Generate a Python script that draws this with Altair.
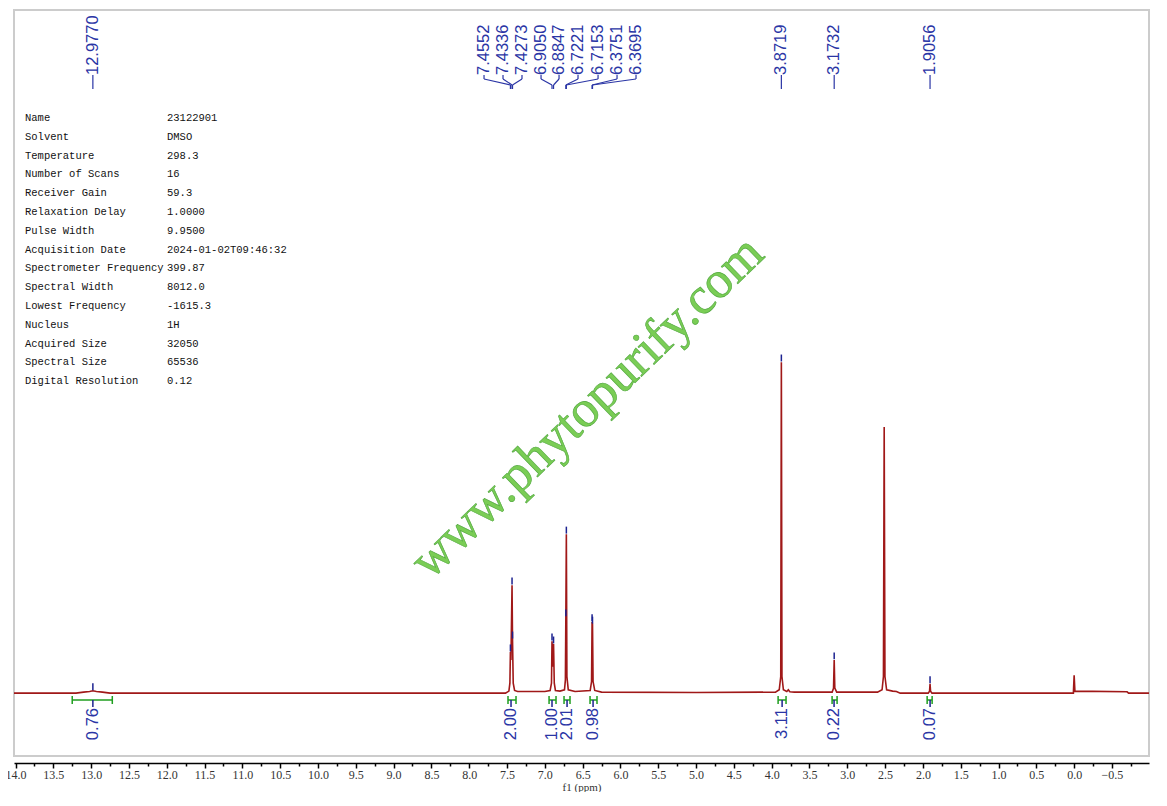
import altair as alt
import pandas as pd

# ---------------- data ----------------
# spectrum vertices (ppm, relative intensity; tallest peak = 100)
spec_ppm = [14.02, 13.20, 13.10, 13.02, 12.977, 12.93, 12.85, 12.75,
            7.52, 7.475, 7.462, 7.4552, 7.448, 7.4336, 7.4273, 7.418, 7.40, 7.36,
            7.00, 6.93, 6.912, 6.9050, 6.895, 6.8847, 6.875, 6.86, 6.80,
            6.74, 6.728, 6.7221, 6.7153, 6.708, 6.69, 6.60,
            6.40, 6.382, 6.3751, 6.3695, 6.362, 6.34, 6.25,
            5.00, 3.95, 3.90, 3.880, 3.8719, 3.864, 3.845, 3.80, 3.78, 3.76, 3.70,
            3.20, 3.182, 3.1732, 3.165, 3.14,
            2.60, 2.54, 2.522, 2.512, 2.502, 2.48, 2.40, 2.35, 2.30,
            1.93, 1.912, 1.9056, 1.899, 1.88,
            0.01, 0.0, -0.01, -0.70, -0.72, -0.99]
spec_int = [0.0, 0.0, 0.3, 0.5, 0.7, 0.5, 0.3, 0.0,
            0.0, 0.6, 3.0, 12.4, 10.0, 32.6, 16.3, 3.0, 0.8, 0.5,
            0.5, 0.8, 3.0, 15.7, 8.0, 14.8, 3.0, 0.8, 0.6,
            1.0, 4.0, 23.0, 48.0, 5.0, 1.0, 0.5,
            0.8, 3.5, 21.5, 20.8, 3.5, 0.8, 0.3,
            0.2, 0.3, 1.0, 5.0, 100.0, 5.0, 1.0, 0.5, 1.0, 0.4, 0.3,
            0.3, 1.5, 10.0, 1.5, 0.3,
            0.3, 1.0, 5.0, 80.4, 5.0, 1.0, 0.6, 0.5, 0.0,
            0.0, 0.6, 2.8, 0.6, 0.0,
            0.0, 5.4, 0.6, 0.4, 0.0, 0.0]

# picked peaks
peak_ppm = [12.977, 7.4552, 7.4336, 7.4273, 6.9050, 6.8847, 6.7221, 6.7153,
            6.3751, 6.3695, 3.8719, 3.1732, 1.9056]
peak_int = [0.7, 12.4, 32.6, 16.3, 15.7, 14.8, 23.0, 48.0,
            21.5, 20.8, 100.0, 10.0, 2.8]
peak_text = ["12.9770", "7.4552", "7.4336", "7.4273", "6.9050", "6.8847", "6.7221",
             "6.7153", "6.3751", "6.3695", "3.8719", "3.1732", "1.9056"]
label_ppm = [12.977, 7.804, 7.553, 7.302, 7.050, 6.812, 6.561, 6.296,
             6.045, 5.794, 3.8719, 3.1732, 1.9056]

# integrals
int_from = [13.25, 7.487, 6.944, 6.746, 6.402, 3.915, 3.201, 1.944]
int_to = [12.72, 7.381, 6.852, 6.667, 6.310, 3.810, 3.135, 1.878]
int_label_ppm = [12.977, 7.447, 6.905, 6.706, 6.362, 3.862, 3.175, 1.905]
int_values = ["0.76", "2.00", "1.00", "2.01", "0.98", "3.11", "0.22", "0.07"]

# acquisition parameters
meta_keys = ["Name", "Solvent", "Temperature", "Number of Scans", "Receiver Gain",
             "Relaxation Delay", "Pulse Width", "Acquisition Date",
             "Spectrometer Frequency", "Spectral Width", "Lowest Frequency",
             "Nucleus", "Acquired Size", "Spectral Size", "Digital Resolution"]
meta_vals = ["23122901", "DMSO", "298.3", "16", "59.3", "1.0000", "9.9500",
             "2024-01-02T09:46:32", "399.87", "8012.0", "-1615.3", "1H",
             "32050", "65536", "0.12"]

watermark = "www.phytopurify.com"

tick_values = [14.0, 13.75, 13.5, 13.25, 13.0, 12.75, 12.5, 12.25, 12.0, 11.75,
               11.5, 11.25, 11.0, 10.75, 10.5, 10.25, 10.0, 9.75, 9.5, 9.25,
               9.0, 8.75, 8.5, 8.25, 8.0, 7.75, 7.5, 7.25, 7.0, 6.75, 6.5, 6.25,
               6.0, 5.75, 5.5, 5.25, 5.0, 4.75, 4.5, 4.25, 4.0, 3.75, 3.5, 3.25,
               3.0, 2.75, 2.5, 2.25, 2.0, 1.75, 1.5, 1.25, 1.0, 0.75, 0.5, 0.25,
               0.0, -0.25, -0.5, -0.75]

# ---------------- tables ----------------
spec_df = pd.DataFrame({"ppm": spec_ppm, "inten": spec_int})
peak_df = pd.DataFrame({"ppm": peak_ppm, "inten": peak_int, "txt": peak_text,
                        "lab": label_ppm})
peak_df["mtop"] = peak_df["inten"] + 2.3
peak_df["mbot"] = peak_df["inten"] + 0.2
int_df = pd.DataFrame({"a": int_from, "b": int_to, "lab": int_label_ppm, "txt": int_values})
ends_df = pd.DataFrame({"e": int_from + int_to})
meta_df = pd.DataFrame({"k": ["\n".join(meta_keys)], "v": ["\n".join(meta_vals)]})
wm_df = pd.DataFrame({"t": [watermark]})

W, H = 1135, 746
xscale = alt.Scale(domain=[14.02, -0.99], nice=False, zero=False)
yscale = alt.Scale(domain=[-19.0, 206.4], nice=False, zero=False)

major = "abs(datum.value*2 - round(datum.value*2)) < 0.001"
xaxis = alt.Axis(
    title="f1 (ppm)", values=tick_values,
    labelExpr=f"{major} ? format(datum.value, '.1f') : ''",
    tickSize={"condition": {"test": major, "value": 5}, "value": 3},
    grid=False, offset=7, domainColor="#000000", domainWidth=1.5,
    tickColor="#000000", tickWidth=1.5, labelOverlap=False, labelFlush=False,
    labelBound=False, labelFont="Liberation Serif", labelFontSize=12,
    labelColor="#333333", labelPadding=1, titleFont="Liberation Serif",
    titleFontSize=11, titleFontWeight="normal", titleColor="#333333",
    titlePadding=1,
)


def X(field):
    return alt.X(field, type="quantitative", scale=xscale, axis=xaxis)


BLUE = "#2a35a5"
MARKBLUE = "#1c2290"
GREEN = "#1f9e1f"
RED = "#a01818"

spectrum = alt.Chart(spec_df).mark_line(color=RED, strokeWidth=1.6).encode(
    x=X("ppm"), y=alt.Y("inten:Q", scale=yscale, axis=None))

marks = alt.Chart(peak_df).mark_rule(color=MARKBLUE, strokeWidth=1.5).encode(
    x=X("ppm"), y=alt.Y("mbot:Q", scale=yscale, axis=None), y2="mtop:Q")

top_text = alt.Chart(peak_df).mark_text(
    angle=270, align="left", baseline="middle", font="Liberation Sans",
    fontSize=16.5, color=BLUE).encode(x=X("lab"), y=alt.value(65), text="txt:N")

conn1 = alt.Chart(peak_df).mark_rule(color=BLUE, strokeWidth=1.2).encode(
    x=X("lab"), y=alt.value(65), y2=alt.value(69))
conn2 = alt.Chart(peak_df).mark_rule(color=BLUE, strokeWidth=1.2).encode(
    x=X("lab"), x2="ppm:Q", y=alt.value(69), y2=alt.value(75))
conn3 = alt.Chart(peak_df).mark_rule(color=BLUE, strokeWidth=1.2).encode(
    x=X("ppm"), y=alt.value(75), y2=alt.value(79))

bracket = alt.Chart(int_df).mark_rule(color=GREEN, strokeWidth=1.5).encode(
    x=X("a"), x2="b:Q", y=alt.value(690))
bracket_ends = alt.Chart(ends_df).mark_rule(color=GREEN, strokeWidth=1.5).encode(
    x=X("e"), y=alt.value(686), y2=alt.value(694))
int_dash = alt.Chart(int_df).mark_rule(color=MARKBLUE, strokeWidth=1.5).encode(
    x=X("lab"), y=alt.value(690), y2=alt.value(697))
int_text = alt.Chart(int_df).mark_text(
    angle=270, align="right", baseline="middle", font="Liberation Sans",
    fontSize=16.5, color=BLUE).encode(x=X("lab"), y=alt.value(698), text="txt:N")

meta_k = alt.Chart(meta_df).mark_text(
    align="left", baseline="alphabetic", lineBreak="\n", lineHeight=18.8,
    font="Liberation Mono", fontSize=10.5, color="#111111").encode(
    x=alt.value(11), y=alt.value(111), text="k:N")
meta_v = alt.Chart(meta_df).mark_text(
    align="left", baseline="alphabetic", lineBreak="\n", lineHeight=18.8,
    font="Liberation Mono", fontSize=10.5, color="#111111").encode(
    x=alt.value(153), y=alt.value(111), text="v:N")

wm = alt.Chart(wm_df).mark_text(
    angle=316, align="center", baseline="middle", font="Liberation Serif",
    fontSize=52, color="#6cc843", opacity=0.9, stroke="#3e9e2a",
    strokeWidth=0.6).encode(x=alt.value(573), y=alt.value(397), text="t:N")

chart = alt.layer(
    spectrum, marks, conn1, conn2, conn3, top_text, bracket, bracket_ends,
    int_dash, int_text, meta_k, meta_v, wm
).properties(
    width=W, height=H,
    autosize=alt.AutoSizeParams(type="none"),
    padding={"left": 6, "top": 2, "right": 10, "bottom": 36},
    background="white",
).configure_view(stroke="#cccccc", strokeWidth=2)

chart.save("out.html", embed_options={"renderer": "svg", "actions": False})
